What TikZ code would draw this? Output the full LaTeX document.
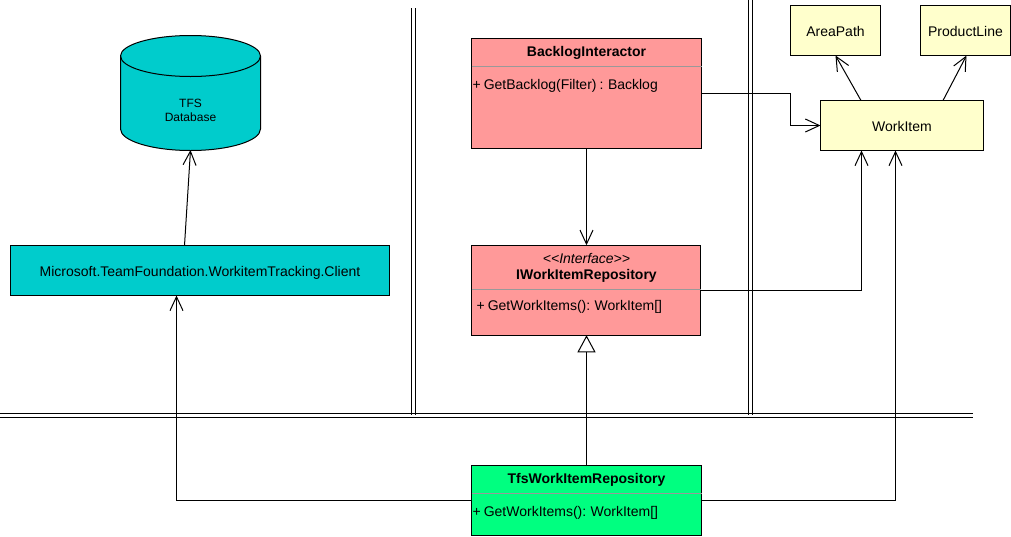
\documentclass[tikz,border=0pt]{standalone}
\usepackage{fontspec}
\setmainfont[WordSpace=0.8]{Liberation Sans}
\usetikzlibrary{arrows.meta}
\definecolor{redfill}{HTML}{FF9999}
\definecolor{cyanfill}{HTML}{00CCCC}
\definecolor{greenfill}{HTML}{00FF80}
\definecolor{yellowfill}{HTML}{FFFFCC}
\definecolor{rulegrey}{HTML}{999999}
\tikzset{
  box/.style={draw=black,line width=1pt,rectangle,inner sep=0pt,outer sep=0pt,align=center,font=\fontsize{14}{16}\selectfont},
  textbox/.style={box,text height=11pt,text depth=0pt},
  redbox/.style={box,fill=redfill},
  lbl/.style={inner sep=0pt,outer sep=0pt,font=\fontsize{14}{16}\selectfont},
  titlelbl/.style={lbl,font=\fontsize{14}{16}\selectfont\bfseries},
  openarrow/.style={draw=black,line width=1pt,-{Straight Barb[length=14pt,width=13pt,line width=1pt]}},
  genarrow/.style={draw=black,line width=1pt,-{Triangle[open,fill=white,length=17pt,width=18pt,line width=1pt]}},
  sepline/.style={draw=black,line width=1pt},
  divider/.style={draw=rulegrey,line width=1pt}
}
\begin{document}
\begin{tikzpicture}[x=1pt,y=-1pt]
\useasboundingbox (0,0) rectangle (1011,536);
% separators
\draw[sepline] (411.5,8) -- (411.5,415);
\draw[sepline] (415.5,8) -- (415.5,415);
\draw[sepline] (748.5,0) -- (748.5,415);
\draw[sepline] (752.5,0) -- (752.5,415);
\draw[sepline] (0,413.5) -- (973,413.5);
\draw[sepline] (0,417.5) -- (973,417.5);
% cylinder
\draw[fill=cyanfill,line width=1pt] (120.5,56) -- (120.5,129) arc[start angle=180,end angle=0,x radius=70,y radius=21.5] -- (260.5,56) arc[start angle=0,end angle=-180,x radius=70,y radius=20.5] -- cycle;
\draw[line width=1pt] (120.5,56) arc[start angle=180,end angle=0,x radius=70,y radius=20.5];
\node[inner sep=0pt,outer sep=0pt,minimum width=140pt,minimum height=115.5pt,align=center,font=\fontsize{12}{14}\selectfont] (db) at (190.5,92.75) {};
\node[inner sep=0pt,align=center,font=\fontsize{12}{14}\selectfont] (dblabel) at (190.5,110.5) {TFS\\Database};
% boxes
\node[textbox,fill=cyanfill,minimum width=379pt,minimum height=50pt] (client) at (200,270.5) {Microsoft.TeamFoundation.WorkitemTracking.Client};
\node[redbox,minimum width=230pt,minimum height=110pt] (bi) at (586.5,93.5) {};
\node[titlelbl] (bititle) at (586.5,52.5) {BacklogInteractor};
\node[lbl,anchor=west] (biop) at (472.5,85.5) {+ GetBacklog(Filter) : Backlog};
\draw[divider] (bi.west |- 0,66.5) -- (bi.east |- 0,66.5);
\node[redbox,minimum width=229pt,minimum height=90pt] (iw) at (586,290.25) {};
\node[lbl,font=\fontsize{14}{16}\selectfont\itshape] (iwst) at (586.5,258.5) {<{}<Interface>{}>};
\node[titlelbl] (iwtitle) at (586.5,275.5) {IWorkItemRepository};
\node[lbl,anchor=west] (iwop) at (476.5,306.5) {+ GetWorkItems(): WorkItem[]};
\draw[divider] (iw.west |- 0,289.5) -- (iw.east |- 0,289.5);
\node[box,fill=greenfill,minimum width=230pt,minimum height=70pt] (tfs) at (586.5,500.5) {};
\node[titlelbl] (tfstitle) at (586.5,479.5) {TfsWorkItemRepository};
\node[lbl,anchor=west] (tfsop) at (472.5,512.5) {+ GetWorkItems(): WorkItem[]};
\draw[divider] (tfs.west |- 0,493.5) -- (tfs.east |- 0,493.5);
\node[textbox,fill=yellowfill,minimum width=90pt,minimum height=50pt] (area) at (835.5,30.5) {AreaPath};
\node[textbox,fill=yellowfill,minimum width=90pt,minimum height=50pt] (prod) at (965.5,30.5) {ProductLine};
\node[textbox,fill=yellowfill,minimum width=163pt,minimum height=50pt] (wi) at (902,125.5) {WorkItem};
% connectors
\draw[openarrow] ([xshift=-15.5pt]client.north) -- ([yshift=0.5pt]db.south);
\draw[openarrow] (tfs.west) -| ([xshift=-23.5pt]client.south);
\draw[openarrow] (tfs.east) -| ([xshift=-6.5pt]wi.south);
\draw[openarrow] (iw.east) -| ([xshift=-40.5pt]wi.south);
\draw[openarrow] (bi.east) -- (790.5,93.5) |- (wi.west);
\draw[openarrow] (bi.south) -- (bi.south |- iw.north);
\draw[genarrow] (tfs.north) -- (tfs.north |- iw.south);
\draw[openarrow] ([xshift=-41pt]wi.north) -- (area.south);
\draw[openarrow] ([xshift=41pt]wi.north) -- ([xshift=1pt]prod.south);
\end{tikzpicture}
\end{document}
